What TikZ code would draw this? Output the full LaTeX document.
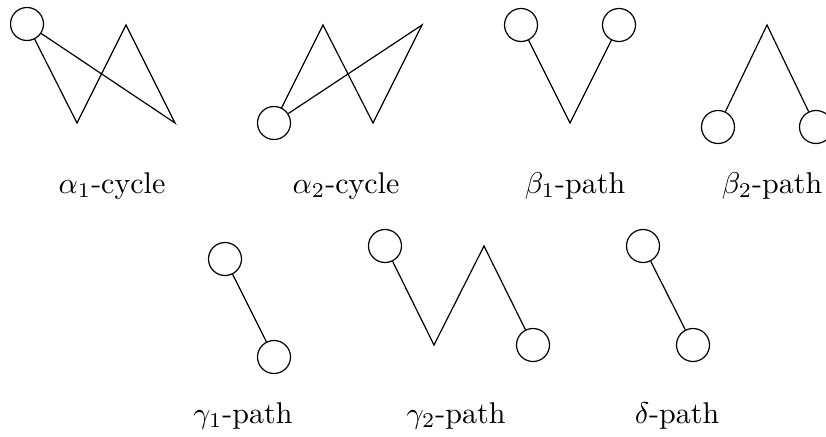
\documentclass[tikz,border=0pt]{standalone}
\newcommand{\labtxt}[1]{\scalebox{3}{#1}}
\begin{document}
\begin{tikzpicture}[x=1pt,y=-1pt,
  vtx/.style={circle,draw,line width=1.2pt,minimum size=33pt,inner sep=0pt},
  edge/.style={line width=1.2pt,line join=miter},
  lab/.style={inner sep=0pt,anchor=base}]
\useasboundingbox (0,0) rectangle (826,436);
\begin{scope}
\clip (0,0) rectangle (826,436);
% alpha1-cycle
\node[vtx] (a1c) at (27,24) {};
\coordinate (a1p) at (77,123);
\coordinate (a1q) at (126,25);
\coordinate (a1r) at (175,123);
\draw[edge] (a1c) -- (a1p) -- (a1q) -- (a1r) -- (a1c);
% alpha2-cycle
\node[vtx] (a2c) at (274,123) {};
\coordinate (a2p) at (323,25);
\coordinate (a2q) at (373,123);
\coordinate (a2r) at (422,25);
\draw[edge] (a2c) -- (a2p) -- (a2q) -- (a2r) -- (a2c);
% beta1-path
\node[vtx] (b1a) at (521,25) {};
\node[vtx] (b1b) at (619,25) {};
\coordinate (b1p) at (570,123);
\draw[edge] (b1a) -- (b1p) -- (b1b);
% beta2-path
\node[vtx] (b2a) at (718,127) {};
\node[vtx] (b2b) at (816,127) {};
\coordinate (b2p) at (767,25);
\draw[edge] (b2a) -- (b2p) -- (b2b);
% gamma1-path
\node[vtx] (g1a) at (225,259) {};
\node[vtx] (g1b) at (274,357) {};
\draw[edge] (g1a) -- (g1b);
% gamma2-path
\node[vtx] (g2a) at (385,246) {};
\coordinate (g2p) at (434,345);
\coordinate (g2q) at (484,246);
\node[vtx] (g2b) at (533,345) {};
\draw[edge] (g2a) -- (g2p) -- (g2q) -- (g2b);
% delta-path
\node[vtx] (da) at (643,246) {};
\node[vtx] (db) at (693,345) {};
\draw[edge] (da) -- (db);
\end{scope}
% labels
\node[lab] (l1) at (112,193) {\labtxt{$\alpha_1$-cycle}};
\node[lab] (l2) at (346,193) {\labtxt{$\alpha_2$-cycle}};
\node[lab] (l3) at (575,193) {\labtxt{$\beta_1$-path}};
\node[lab] (l4) at (772,193) {\labtxt{$\beta_2$-path}};
\node[lab] (l5) at (243,423) {\labtxt{$\gamma_1$-path}};
\node[lab] (l6) at (456,423) {\labtxt{$\gamma_2$-path}};
\node[lab] (l7) at (677,423) {\labtxt{$\delta$-path}};
\end{tikzpicture}
\end{document}
